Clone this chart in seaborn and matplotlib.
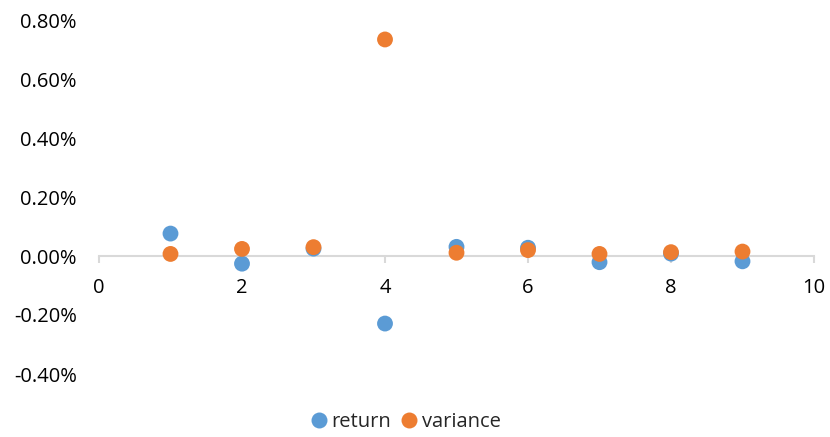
import numpy as np
import pandas as pd
import matplotlib
matplotlib.use('Agg')
import matplotlib.pyplot as plt
from matplotlib.ticker import FuncFormatter
import seaborn as sns

periods = [1, 2, 3, 4, 5, 6, 7, 8, 9]
returns = [0.076, -0.026, 0.025, -0.229, 0.031, 0.028, -0.021, 0.008, -0.018]
variances = [0.007, 0.024, 0.030, 0.734, 0.011, 0.020, 0.007, 0.013, 0.015]

df = pd.DataFrame({
    'x': periods * 2,
    'y': returns + variances,
    'series': ['return'] * len(periods) + ['variance'] * len(periods),
})

sns.set_style('white')
plt.rcParams['font.family'] = ['Open Sans', 'DejaVu Sans']

fig = plt.figure(figsize=(8.3, 4.37), dpi=100)
ax = fig.add_axes([99 / 830, 1 - 374 / 437, (814 - 99) / 830, (374 - 20) / 437])

sns.scatterplot(data=df, x='x', y='y', hue='series',
                palette={'return': '#5B9BD5', 'variance': '#ED7D31'},
                s=130, edgecolor='none', linewidth=0, ax=ax, legend=False,
                zorder=3)

ax.set_xlim(0, 10)
ax.set_ylim(-0.4, 0.8)
ax.set_xticks(np.arange(0, 11, 2))
ax.set_yticks(np.arange(-0.4, 0.81, 0.2))
ax.yaxis.set_major_formatter(FuncFormatter(lambda v, p: f'{v:.2f}%'))
ax.set_xlabel('')
ax.set_ylabel('')

for s in ['top', 'right', 'left']:
    ax.spines[s].set_visible(False)
ax.spines['bottom'].set_position(('data', 0))
ax.spines['bottom'].set_color('#d9d9d9')
ax.spines['bottom'].set_linewidth(1.5)

ax.tick_params(axis='x', direction='out', length=5, width=1.5, color='#d9d9d9',
               pad=10.5, labelsize=14.5, labelcolor='#000000', bottom=True)
ax.tick_params(axis='y', length=0, pad=16, labelsize=14.5, labelcolor='#000000')

handles = [
    plt.Line2D([], [], marker='o', linestyle='', markersize=11.5,
               markerfacecolor='#5B9BD5', markeredgecolor='none', label='return'),
    plt.Line2D([], [], marker='o', linestyle='', markersize=11.5,
               markerfacecolor='#ED7D31', markeredgecolor='none', label='variance'),
]
fig.legend(handles=handles, loc='center', bbox_to_anchor=(405 / 830, 1 - 422 / 437),
           ncol=2, frameon=False, fontsize=14.5, handletextpad=0.2,
           columnspacing=0.4, handlelength=0.9)

fig.savefig('out.png', dpi=100)
